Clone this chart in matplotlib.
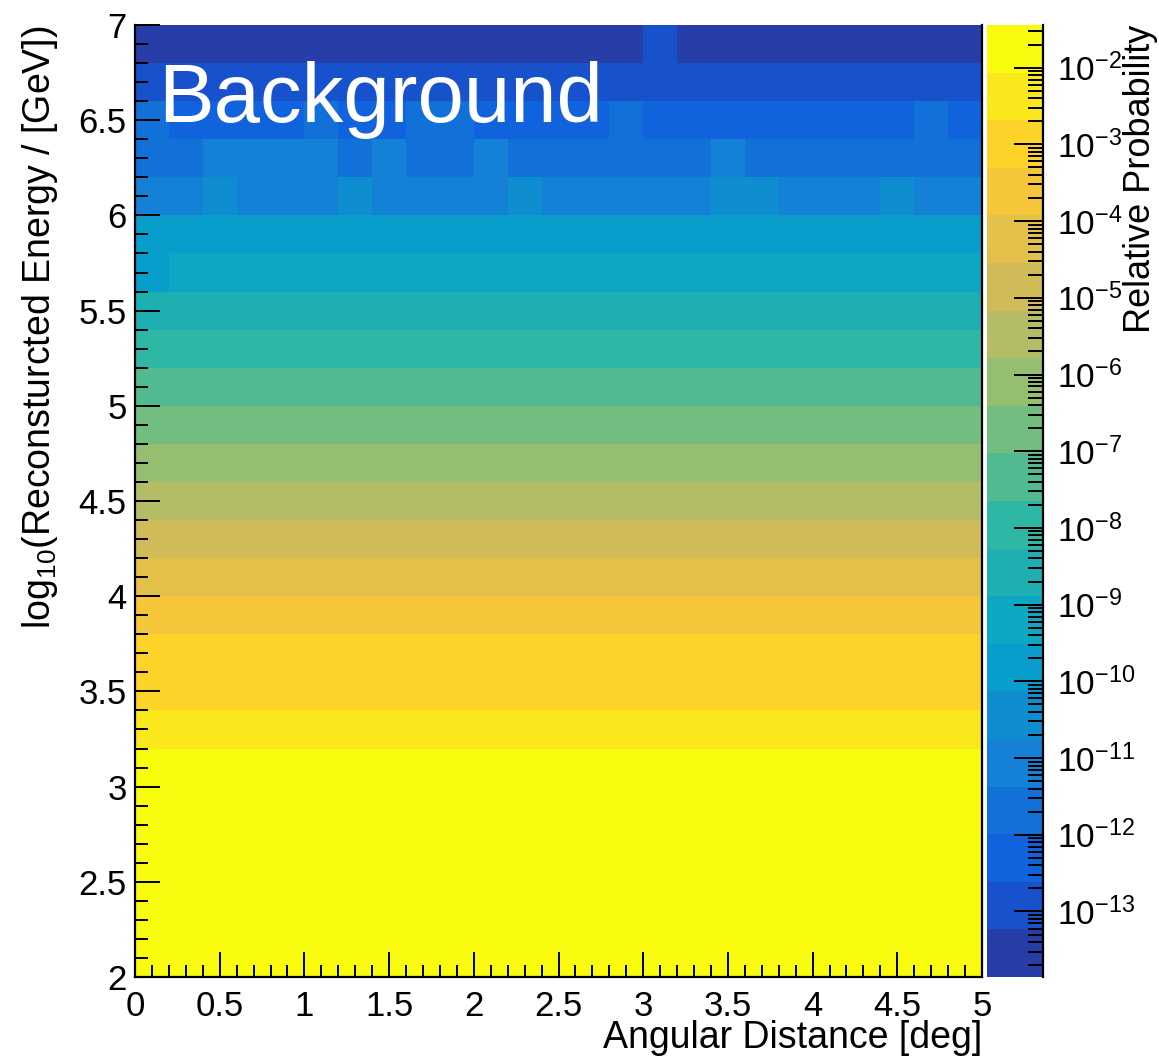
#!/usr/bin/env python3
"""Background PDF: relative probability vs angular distance and reconstructed energy."""

import matplotlib

matplotlib.use("Agg")
import matplotlib.pyplot as plt
import numpy as np
from matplotlib.colors import LinearSegmentedColormap, ListedColormap, LogNorm
from matplotlib.ticker import FormatStrFormatter, LogLocator, MultipleLocator

plt.rcParams["font.family"] = ["Liberation Sans", "DejaVu Sans"]
plt.rcParams["mathtext.default"] = "regular"

# binning (25 x 25 histogram)
angle_edges = np.linspace(0.0, 5.0, 26)      # deg
log_energy_edges = np.linspace(2.0, 7.0, 26)  # log10(E / GeV)

# rows from log10(E)=2.0 up to 5.6, flat in angle
flat_rows = [
    3.2e-2, 2.8e-2, 2.4e-2, 2.0e-2, 1.6e-2, 1.2e-2,   # 2.0 - 3.2
    4.5e-3,                                            # 3.2 - 3.4
    1.5e-3, 7.0e-4,                                    # 3.4 - 3.8
    2.2e-4,                                            # 3.8 - 4.0
    5.0e-5,                                            # 4.0 - 4.2
    1.2e-5,                                            # 4.2 - 4.4
    3.0e-6,                                            # 4.4 - 4.6
    7.0e-7,                                            # 4.6 - 4.8
    1.8e-7,                                            # 4.8 - 5.0
    4.5e-8,                                            # 5.0 - 5.2
    1.1e-8,                                            # 5.2 - 5.4
    2.7e-9,                                            # 5.4 - 5.6
]

# upper rows, low statistics -> structure in angle
row_5p6 = [2.0e-10] + [6.5e-10] * 24
row_5p8 = [1.6e-10] * 25
row_6p0 = [1.0e-11, 1.0e-11, 4.0e-11, 1.0e-11, 1.0e-11, 1.0e-11, 4.0e-11, 1.0e-11,
           1.0e-11, 1.0e-11, 1.0e-11, 4.0e-11, 1.0e-11, 1.0e-11, 1.0e-11, 1.0e-11,
           1.0e-11, 4.0e-11, 4.0e-11, 1.0e-11, 1.0e-11, 1.0e-11, 4.0e-11, 1.0e-11,
           1.0e-11]
row_6p2 = [2.5e-12, 2.5e-12, 1.1e-11, 1.1e-11, 1.1e-11, 1.1e-11, 2.5e-12, 1.1e-11,
           2.5e-12, 2.5e-12, 1.1e-11, 2.5e-12, 2.5e-12, 2.5e-12, 2.5e-12, 2.5e-12,
           2.5e-12, 1.1e-11, 2.5e-12, 2.5e-12, 2.5e-12, 2.5e-12, 2.5e-12, 2.5e-12,
           2.5e-12]
row_6p4 = [2.5e-12, 6.0e-13, 6.0e-13, 6.0e-13, 6.0e-13, 2.5e-12, 6.0e-13, 6.0e-13,
           2.5e-12, 2.5e-12, 6.0e-13, 6.0e-13, 6.0e-13, 6.0e-13, 2.5e-12, 6.0e-13,
           6.0e-13, 6.0e-13, 6.0e-13, 6.0e-13, 6.0e-13, 6.0e-13, 6.0e-13, 2.5e-12,
           6.0e-13]
row_6p6 = [1.5e-13] * 25
row_6p8 = [3.0e-14] * 15 + [1.2e-13] + [3.0e-14] * 9

z_min, z_max = 1.4e-14, 3.6e-2
n_contours = 20

# ROOT kBird palette
bird_stops = [0.0, 0.125, 0.25, 0.375, 0.5, 0.625, 0.75, 0.875, 1.0]
bird_red = [0.2082, 0.0592, 0.0780, 0.0232, 0.1802, 0.5301, 0.8186, 0.9956, 0.9764]
bird_green = [0.1664, 0.3599, 0.5041, 0.6419, 0.7178, 0.7492, 0.7328, 0.7862, 0.9832]
bird_blue = [0.5293, 0.8684, 0.8385, 0.7914, 0.6425, 0.4662, 0.3499, 0.1968, 0.0539]


def root_levels_cmap():
    bird = LinearSegmentedColormap.from_list(
        "bird", list(zip(bird_stops, zip(bird_red, bird_green, bird_blue))), N=255)
    idx = [int((i + 0.99) * 255 / n_contours) for i in range(n_contours)]
    return ListedColormap([bird(k / 254) for k in idx])


z = np.vstack([np.full(len(angle_edges) - 1, v) for v in flat_rows]
              + [row_5p6, row_5p8, row_6p0, row_6p2, row_6p4, row_6p6, row_6p8])

fig = plt.figure(figsize=(11.59, 10.60), dpi=100)
W, H = 1159, 1060
ax = fig.add_axes([135 / W, 1 - 977 / H, 847 / W, 952 / H])
cax = fig.add_axes([987 / W, 1 - 977 / H, 56 / W, 952 / H])

mesh = ax.pcolormesh(angle_edges, log_energy_edges, z, cmap=root_levels_cmap(),
                     norm=LogNorm(vmin=z_min, vmax=z_max), shading="flat")
ax.set_xlim(0, 5)
ax.set_ylim(2, 7)

ax.xaxis.set_major_locator(MultipleLocator(0.5))
ax.xaxis.set_minor_locator(MultipleLocator(0.1))
ax.yaxis.set_major_locator(MultipleLocator(0.5))
ax.yaxis.set_minor_locator(MultipleLocator(0.1))
ax.xaxis.set_major_formatter(FormatStrFormatter("%g"))
ax.yaxis.set_major_formatter(FormatStrFormatter("%g"))
ax.tick_params(which="both", direction="in", top=False, right=False, width=1.4, labelsize=25)
ax.tick_params(which="major", length=18)
ax.tick_params(which="minor", length=9)
ax.tick_params(axis="x", which="major", pad=9)
ax.tick_params(axis="y", which="major", pad=6)
for side in ("left", "bottom", "right"):
    ax.spines[side].set_linewidth(1.6)
ax.spines["top"].set_visible(False)

ax.text(0.027, 0.898, "Background", transform=ax.transAxes, color="white",
        fontsize=60, ha="left", va="baseline")

cb = fig.colorbar(mesh, cax=cax)
cb.outline.set_visible(False)
cax.yaxis.set_major_locator(LogLocator(base=10, numticks=20))
cax.yaxis.set_minor_locator(LogLocator(base=10, subs=np.arange(2, 10), numticks=20))
cax.tick_params(which="both", direction="in", right=True, left=False, width=1.4,
                labelsize=24, pad=10)
cax.tick_params(which="major", length=21)
cax.tick_params(which="minor", length=10.5)
cax.plot([1, 1], [0, 1], transform=cax.transAxes, color="black", lw=1.6, clip_on=False)

fig.text(982 / W, 12 / H, "Angular Distance [deg]", fontsize=27, ha="right", va="baseline")
fig.text(40 / W, 1 - 25 / H, "log$_{10}$(Reconsturcted Energy / [GeV])", fontsize=27,
         rotation=90, ha="center", va="top")
fig.text(1141 / W, 1 - 25 / H, "Relative Probability", fontsize=26,
         rotation=90, ha="center", va="top")

fig.savefig("out.png", dpi=100)
